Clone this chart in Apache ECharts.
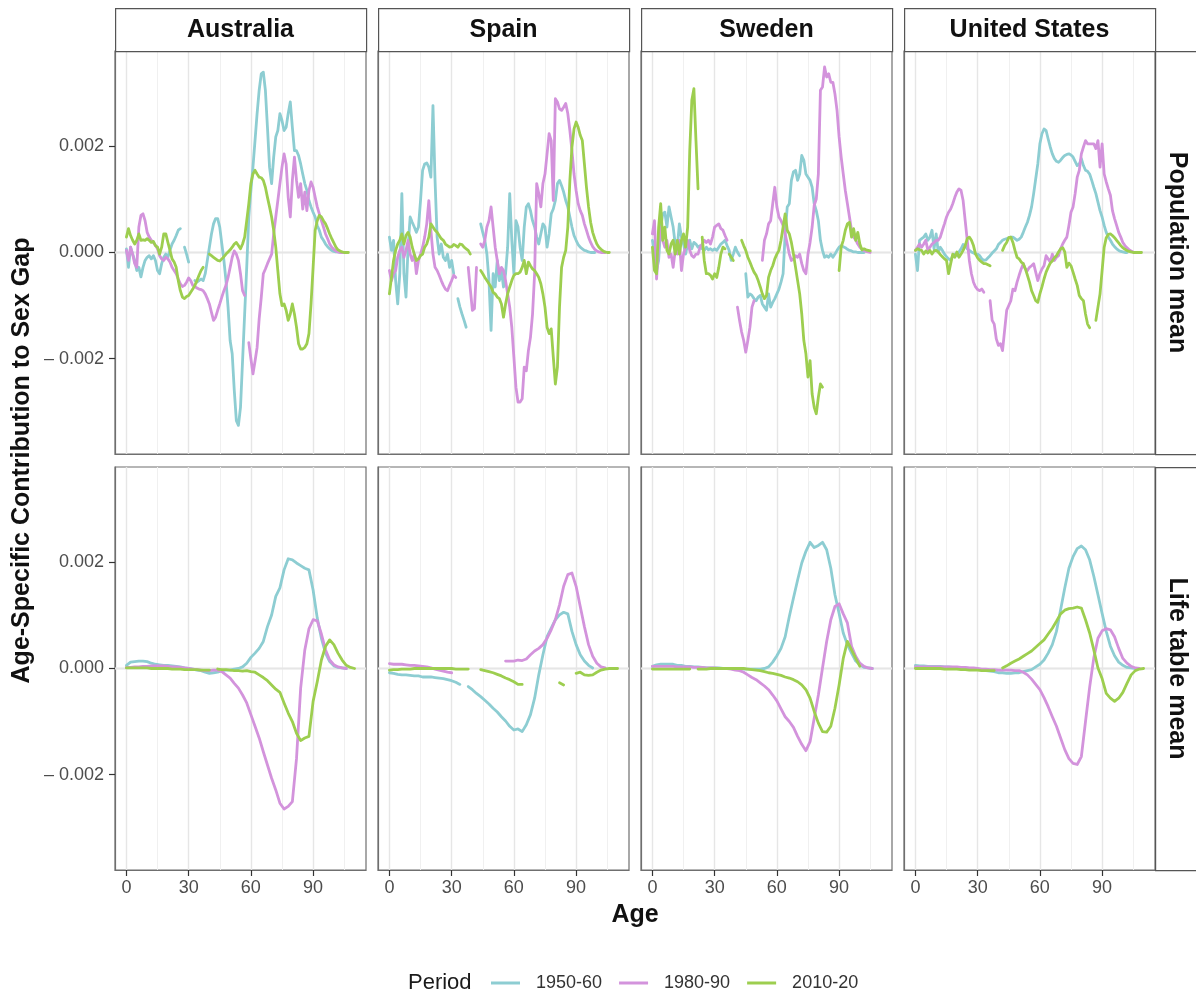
<!DOCTYPE html>
<html>
<head>
<meta charset="utf-8">
<title>Age-Specific Contribution to Sex Gap</title>
<script src="https://cdn.jsdelivr.net/npm/echarts@6/dist/echarts.min.js"></script>
<style>
  html, body { margin: 0; padding: 0; background: #ffffff; }
  #chart { width: 1196px; height: 996px; }
</style>
</head>
<body>
<div id="chart"></div>
<script>
// ---------------------------------------------------------------------------
// Facet labels, periods and axis ticks
// ---------------------------------------------------------------------------
const countries = ['Australia', 'Spain', 'Sweden', 'United States'];
const measures = ['Population mean', 'Life table mean'];
const periods = ['1950-60', '1980-90', '2010-20'];
const periodColors = ['#8dcdd2', '#d393dc', '#9dce4f'];
const ageTicks = [0, 30, 60, 90];
const ageMinorGrid = [15, 45, 75, 105];
const gapTicks = [-0.002, 0, 0.002];
const gapMinorGrid = [-0.003, -0.001, 0.001, 0.003];

// All contributions below are stored in units of 0.0001 (null = no estimate).
const VALUE_UNIT = 1e-4;

// Population mean: one value per single year of age, starting at age 0.
const POP_AGE_STEP = 1;

const ausPop1950 = [0.7,-2.8,1.0,-0.3,-1.5,-3.4,-2.8,-4.6,-2.8,-1.5,
  -0.9,-0.6,-1.2,-0.6,-1.5,-3.4,-4.0,-2.1,-0.9,-0.3,
  -0.9,0.4,1.6,2.3,3.2,4.2,4.5,null,1.0,-0.3,
  -1.8,null,null,-5.3,-5.6,-5.3,-5.0,-5.3,-4.0,-1.5,
  1.0,3.5,5.4,6.4,6.4,4.8,1.6,-1.5,-5.3,-10.3,
  -16.6,-19.1,-26.0,-31.7,-32.6,-29.2,-20.4,-11.6,-2.8,6.7,
  11.7,16.1,21.1,26.2,30.6,33.7,34.0,30.6,23.6,16.1,
  13.0,18.0,21.8,23.0,26.2,24.9,23.0,23.6,26.2,28.4,
  23.6,19.2,19.2,18.3,16.7,14.8,13.0,11.7,9.8,8.6,
  7.6,6.7,5.1,4.2,2.9,2.3,1.6,1.1,0.7,0.4,
  0.2,0.1,0.1,0];
const ausPop1980 = [0.4,-1.5,1.0,-0.3,-2.1,-2.8,4.8,7.0,7.3,6.0,
  3.8,2.9,2.3,1.9,1.3,0.7,-0.6,-1.2,-1.5,-0.9,
  -1.2,-1.8,-2.8,-3.4,-4.0,-5.0,-5.9,-6.4,-6.2,-5.6,
  -4.8,-5.3,-6.2,-6.4,-6.7,-6.9,-7.0,-7.2,-7.8,-8.7,
  -9.7,-11.3,-12.8,-12.2,-10.9,-9.7,-8.4,-7.2,-6.2,-4.7,
  -2.8,-0.9,0.3,-0.3,-1.5,-4.0,-7.2,-8.1,null,-17.0,
  -20.0,-22.9,-20.5,-17.9,-12.5,-8.5,-4.0,-3.1,-2.1,-1.2,
  -0.3,3.5,6.7,9.8,13.0,16.1,18.6,16.7,10.4,6.7,
  13.6,18.0,13.6,10.4,13.0,8.2,11.4,7.9,11.7,13.3,
  12.3,10.4,8.6,7.3,6.0,4.8,3.5,2.6,1.6,1.0,
  0.6,0.3,0.1,0,0,0];
const ausPop2010 = [2.9,4.5,3.2,2.3,1.6,2.3,3.5,2.3,2.4,2.3,
  2.6,2.3,1.9,2.1,1.3,1.0,-0.3,1.0,3.5,3.5,
  1.9,0.4,-1.2,-1.8,-2.8,-5.3,-7.2,-8.4,-8.7,-8.3,
  -8.1,-7.5,-6.9,-6.2,-5.3,-4.3,-3.4,-2.8,null,null,
  -0.3,-0.6,-0.9,-1.2,-1.5,-1.6,-1.2,-0.8,-0.3,0.1,
  0.5,1.0,1.6,1.9,1.3,0.7,1.6,2.9,6.0,9.2,
  13.0,14.8,15.5,14.8,14.2,14.1,13.6,12.3,10.4,8.6,
  6.7,4.2,1.0,-3.4,-7.8,-10.0,-9.7,-10.9,-12.8,-11.6,
  -9.7,-11.6,-14.1,-17.2,-18.2,-18.2,-17.9,-17.2,-15.3,-9.7,
  -2.8,4.2,6.0,7.0,6.7,6.0,5.4,4.5,3.5,2.6,
  1.8,1.0,0.5,0.3,0.1,0,0,0];

const espPop1950 = [2.9,0.4,2.3,-5.3,-9.7,-4.0,11.1,-4.0,-8.4,1.0,
  6.7,5.7,4.8,3.8,4.8,9.8,15.5,16.7,16.9,16.1,
  14.2,27.7,13.6,2.9,-0.3,1.6,-0.9,-1.5,-0.3,-2.8,
  -1.5,-4.0,null,-8.7,-10.3,-11.6,-12.8,-14.1,null,null,
  null,null,null,null,5.4,3.8,2.3,-0.3,-5.3,-14.7,
  -4.0,-6.5,-1.5,-5.3,-3.4,-6.5,-4.0,1.0,11.1,2.3,
  -4.0,6.0,4.8,1.0,-1.5,4.8,8.6,9.2,7.9,6.0,
  4.8,2.9,1.6,3.5,5.4,4.8,1.0,3.5,7.3,8.2,
  9.8,13.0,13.6,12.6,11.4,9.8,8.6,6.7,4.8,3.2,
  2.3,1.5,1.0,0.7,0.4,0.3,0.1,0,0,0];
const espPop1980 = [-3.4,-5.3,-4.0,-3.4,-0.9,0.4,1.0,-0.9,0.4,2.3,
  -0.3,-1.5,-0.3,-4.0,-1.5,-0.3,1.0,2.9,5.4,9.8,
  4.2,-0.3,-2.8,-3.4,-4.3,-5.3,-6.2,-6.9,-7.2,-6.2,
  -5.3,-4.3,-4.7,null,null,null,null,null,-2.8,-6.9,
  -10.9,-10.6,-2.8,null,1.6,1.0,2.3,4.8,6.0,8.6,
  4.8,1.0,-1.5,-4.0,-2.8,-3.4,-5.3,-7.8,-10.3,-14.1,
  -19.7,-25.4,-28.2,-28.2,-27.6,-21.6,-22.3,-18.5,-16.0,-11.6,
  -4.0,13.0,11.1,8.6,13.0,14.8,18.6,22.4,21.1,9.8,
  29.0,28.4,27.1,26.8,27.4,28.1,26.2,23.0,19.2,14.8,
  11.7,9.2,7.9,7.0,5.4,4.2,2.9,1.9,1.1,0.6,
  0.3,0.1,0,0,0];
const espPop2010 = [-7.8,-4.7,-1.5,0.4,1.6,2.3,3.5,1.6,3.2,3.8,
  2.9,1.0,-0.3,-1.5,-1.2,-0.6,-0.3,1.0,1.6,2.9,
  5.4,4.8,4.2,3.8,3.2,2.6,2.3,1.6,1.3,1.0,
  1.1,1.5,1.3,1.0,1.6,1.5,1.0,0.7,0.4,-0.3,
  null,null,null,null,-3.4,-4.0,-4.7,-5.3,-5.9,-6.5,
  -7.5,-7.8,-8.4,-8.7,-9.7,-12.2,-9.7,-7.8,-6.5,-5.3,
  -4.3,-4.0,-4.0,-3.7,-2.8,-1.5,-4.0,-1.8,-2.5,-3.1,
  -3.4,-4.0,-4.7,-5.9,-7.8,-10.3,-14.1,-15.3,-14.4,-19.7,
  -24.8,-21.6,-10.3,-2.8,-0.9,0.4,4.8,13.6,19.9,23.3,
  24.6,23.6,22.1,21.1,16.7,12.3,8.6,5.7,3.8,2.6,
  1.6,1.0,0.6,0.3,0.1,0,0];

const swePop1950 = [2.3,-0.3,-3.4,-1.5,4.8,7.3,7.6,4.8,8.6,6.7,
  4.8,1.6,1.0,5.4,2.9,1.6,-0.3,1.6,2.3,0.7,
  1.9,1.6,1.0,1.3,0.7,0.4,1.0,0.5,0.7,0.4,
  0.7,0.4,1.0,1.6,1.9,2.3,1.3,0.4,-1.5,-0.3,
  1.0,0.1,-0.6,null,null,-4.0,-8.4,-7.8,-8.1,-8.7,
  -9.1,-8.4,-8.1,-9.7,-10.3,-10.9,-7.8,-10.3,-9.4,-8.7,
  -7.8,-6.9,-5.6,-4.0,3.5,8.6,9.2,13.6,15.2,15.5,
  13.6,14.8,18.3,17.4,14.8,14.2,13.6,12.3,9.2,7.9,
  6.0,2.3,0.4,-0.9,-0.6,-0.9,-0.3,-0.9,-0.3,0.4,
  1.0,1.3,1.1,0.9,0.6,0.4,0.3,0.1,0.1,0,
  0,0,0];
const swePop1980 = [3.5,6.0,-5.0,1.0,4.8,2.3,1.0,2.3,-0.9,-0.3,
  -2.8,0.4,-0.3,2.3,-3.4,-0.3,1.0,2.3,0.4,-0.6,
  -0.9,-0.3,-0.3,1.0,1.6,2.3,1.9,2.3,1.6,2.9,
  4.8,5.1,5.4,4.5,4.2,3.2,2.3,null,null,null,
  null,-10.3,-12.8,-15.0,-16.6,-18.8,-16.6,-14.1,-10.3,-9.1,
  null,null,null,-1.5,2.3,3.5,5.4,6.0,9.2,12.3,
  8.6,6.7,6.0,5.1,3.5,1.6,-0.3,-1.5,-1.2,-0.6,
  -0.9,-0.3,-2.1,-3.4,-4.0,-0.3,1.9,4.8,8.9,10.1,
  14.8,30.6,31.2,35.0,33.1,33.7,32.1,32.1,29.9,26.8,
  21.8,18.0,14.8,11.7,9.2,6.7,4.2,2.9,2.4,1.6,
  1.0,0.6,0.4,0.2,0.1,0];
const swePop2010 = [1.0,-3.4,-4.0,4.8,9.2,2.3,4.8,0.4,-0.3,1.6,
  2.3,-0.3,2.3,-0.3,2.3,3.5,1.0,4.8,19.2,28.7,
  30.9,21.1,12.0,null,2.9,-1.5,-4.0,-4.0,-4.3,-5.0,
  -4.0,-4.7,-2.8,-0.3,1.0,0.7,null,-0.3,-0.9,-1.5,
  null,null,null,2.3,1.3,0.4,-0.9,-1.8,-2.8,-3.7,
  -4.3,-5.3,-6.5,-7.8,-8.7,-8.1,-4.7,-3.4,-2.5,-1.2,
  -0.3,0.4,2.3,4.8,7.3,4.2,3.5,1.9,-0.3,-2.8,
  -5.3,-7.8,-11.6,-16.6,-19.1,-23.5,-20.4,-26.7,-29.2,-30.4,
  -27.3,-24.8,-25.4,null,null,null,null,null,null,null,
  -3.4,1.0,2.3,4.2,5.4,5.7,2.9,4.5,2.3,3.8,
  1.6,0.5,0.7,0.5,0.4,0.3];

const usaPop1950 = [-0.3,-3.4,2.3,2.6,2.9,3.5,2.3,2.9,4.2,0.7,
  3.5,0.1,1.0,0.4,-0.3,-0.8,-1.2,-1.5,-0.6,-0.3,
  -0.6,0.1,0.7,1.5,1.3,0.7,0.4,0.1,-0.1,-0.3,
  -0.3,-0.6,-1.2,-1.5,-1.4,-1.0,-0.6,-0.1,0.3,0.7,
  1.5,1.9,2.3,2.5,2.6,2.8,2.9,2.9,2.6,2.3,
  2.5,2.9,3.8,4.8,5.7,7.0,8.6,11.1,13.9,16.7,
  20.5,22.4,23.3,23.0,21.4,19.9,18.6,17.7,17.2,17.0,
  17.4,17.9,18.3,18.5,18.6,18.4,18.0,17.2,16.4,16.7,
  17.7,16.4,15.5,15.3,14.8,13.6,12.3,11.1,9.5,7.9,
  6.7,5.1,3.8,2.9,2.3,1.6,1.1,0.7,0.4,0.2,
  0.1,0,0];
const usaPop1980 = [0.4,1.0,1.6,1.0,1.6,2.3,0.4,1.0,1.6,1.9,
  2.3,2.3,2.9,4.2,5.4,6.7,7.6,8.2,9.2,10.4,
  11.4,12.0,11.7,9.8,6.0,2.3,-1.5,-4.0,-5.6,-6.5,
  -7.0,-7.2,-6.9,-7.5,null,null,-9.1,-12.8,-13.5,-16.3,
  -17.5,-17.2,-18.5,-14.7,-10.9,-10.0,-9.1,-6.9,-7.2,-5.6,
  -4.3,-3.1,-2.1,-3.1,-3.4,-2.8,-2.5,-2.1,-3.7,-5.3,
  -4.0,-3.1,-2.5,-0.6,-1.2,-1.8,-0.3,-1.5,-0.9,-0.6,
  0.7,1.6,2.3,2.9,5.1,7.6,8.6,11.1,14.2,15.5,
  18.6,19.9,21.1,20.5,20.5,20.5,20.5,19.6,21.1,16.1,
  20.5,14.8,13.3,12.0,10.8,7.9,6.4,5.1,3.8,2.9,
  1.9,1.3,0.9,0.5,0.3,0.1];
const usaPop2010 = [0.4,0.7,0.5,0.4,-0.3,0.3,-0.1,0.4,-0.3,0.3,
  0.4,0.1,-0.4,-0.8,-1.2,-1.5,-4.0,-2.1,-0.3,-0.9,
  0.1,-0.9,-0.3,0.4,1.3,2.6,2.9,2.3,1.3,-0.3,
  -1.0,-1.5,-1.8,-2.1,-2.1,-2.3,-2.5,null,null,null,
  null,null,0.4,1.3,1.9,2.8,2.9,1.9,0.4,-0.9,
  -1.2,-1.8,-2.1,-3.1,-4.3,-5.6,-7.2,-8.1,-9.1,-9.4,
  -7.8,-6.5,-5.0,-3.7,-2.8,-2.0,-1.6,-1.0,-0.6,0.1,
  0.7,0.9,0.1,-2.8,-2.0,-2.5,-3.7,-5.0,-6.2,-8.1,
  -8.7,-9.1,-11.6,-13.5,-14.2,null,null,-12.8,-10.3,-7.8,
  -3.4,1.0,2.8,3.4,3.5,3.2,2.8,2.3,1.8,1.3,
  0.9,0.6,0.4,0.2,0.1,0,0,0,0,0];

// Life table mean: one value every second year of age, starting at age 0.
const LT_AGE_STEP = 2;

const ausLt1950 = [0.6,1.2,1.3,1.4,1.4,1.3,1.0,0.8,0.7,0.6,
  0.6,0.5,0.4,0.3,0.1,0,-0.1,-0.3,-0.4,-0.7,
  -0.9,-0.8,-0.7,-0.4,-0.3,-0.3,-0.1,0,0.3,1.0,
  2.1,2.9,3.8,5.1,7.9,10.1,13.6,15.2,18.6,20.7,
  20.5,19.9,19.4,18.9,18.6,14.8,9.5,5.7,2.9,1.3,
  0.5,0.2,0.1,0];
const ausLt1980 = [0.2,0.2,0.3,0.3,0.4,0.4,0.5,0.5,0.5,0.5,
  0.4,0.3,0.3,0.2,0.1,0,-0.1,-0.2,-0.3,-0.4,
  -0.4,-0.3,-0.3,-0.6,-1.2,-1.8,-2.8,-3.7,-5.0,-6.5,
  -8.7,-10.9,-13.1,-15.7,-18.2,-20.7,-22.9,-25.4,-26.5,-26.0,
  -25.1,-17.0,-3.7,3.5,7.5,9.2,9.0,6.5,3.5,1.6,
  0.7,0.3,0.1,0];
const ausLt2010 = [0.1,0.1,0.1,0.1,0.1,0.1,0,0,0,0,
  0,-0.1,-0.1,-0.1,-0.2,-0.2,-0.2,-0.2,-0.3,-0.3,
  -0.3,null,-0.1,-0.2,-0.2,-0.3,-0.4,-0.4,-0.5,-0.4,
  -0.6,-0.7,-1.2,-1.7,-2.3,-3.1,-3.9,-4.5,-6.5,-8.4,
  -10.0,-12.2,-13.6,-13.1,-12.8,-6.2,-2.5,1.6,4.2,5.4,
  4.5,2.9,1.6,0.6,0.2,0];

const espLt1950 = [-0.8,-0.9,-1.1,-1.2,-1.2,-1.3,-1.4,-1.4,-1.6,-1.6,
  -1.6,-1.7,-1.8,-1.9,-2.1,-2.3,-2.6,-3.0,null,-3.4,
  -4.0,-4.7,-5.3,-6.0,-6.7,-7.5,-8.2,-9.1,-9.9,-10.9,
  -11.6,-11.4,-11.9,-10.6,-8.7,-5.6,-1.2,2.6,6.0,7.6,
  9.2,10.1,10.6,10.3,7.0,4.5,2.6,1.4,0.6,0.1];
const espLt1980 = [0.9,0.8,0.8,0.8,0.7,0.6,0.6,0.5,0.4,0.3,
  0.1,-0.1,-0.3,-0.5,-0.7,-0.8,null,null,null,null,
  null,null,null,null,null,null,null,null,1.4,1.4,
  1.4,1.6,1.5,1.8,2.6,3.3,3.8,4.5,5.7,7.3,
  9.2,12.0,15.5,17.7,18.0,15.5,11.7,7.9,4.5,2.3,
  1.0,0.3,0.1];
const espLt2010 = [-0.3,-0.2,-0.2,-0.1,-0.1,-0.1,0,0,0,0,
  0,0,0,0,0,0,-0.1,-0.1,-0.1,-0.1,
  null,null,-0.2,-0.4,-0.6,-0.8,-1.1,-1.4,-1.8,-2.1,
  -2.5,-3.0,-3.0,null,null,null,null,null,null,null,
  null,-2.7,-3.1,null,null,-0.9,-0.7,-1.2,-1.3,-1.2,
  -0.7,-0.3,-0.1,0,0,0];

const sweLt1950 = [0.4,0.7,0.8,0.8,0.8,0.8,0.6,0.6,0.4,0.4,
  0.3,0.3,0.2,0.1,0.1,0.1,0.1,0,0,0,
  -0.1,-0.1,-0.1,-0.1,-0.1,-0.1,-0.1,0,0.3,1.2,
  2.4,3.8,6.0,9.8,13.3,16.7,19.9,22.1,23.8,22.8,
  23.2,23.8,22.4,18.9,13.9,10.4,6.7,4.5,2.9,1.4,
  0.7,0.2,0.1,0];
const sweLt1980 = [0.4,0.4,0.4,0.4,0.4,0.4,0.3,0.3,0.3,0.3,
  0.2,0.2,0.2,0.1,0.1,0.1,0,0,0,-0.1,
  -0.3,-0.4,-0.7,-1.2,-1.7,-2.1,-2.7,-3.3,-4.0,-5.0,
  -6.1,-7.6,-9.1,-10.0,-11.1,-12.8,-14.3,-15.5,-13.8,-9.4,
  -5.0,0.1,5.1,9.2,11.7,12.2,10.3,8.6,4.2,2.3,
  1.0,0.4,0.1,0];
const sweLt2010 = [-0.1,-0.1,-0.1,-0.1,-0.1,-0.1,-0.1,-0.1,-0.1,-0.1,
  null,-0.1,-0.1,-0.1,0,0,0,0,0,0,
  0,0,0,-0.1,-0.2,-0.3,-0.4,-0.6,-0.8,-0.9,
  -1.1,-1.3,-1.6,-1.8,-2.1,-2.5,-3.1,-4.0,-5.6,-8.1,
  -10.3,-11.9,-12.0,-10.9,-7.5,-3.1,1.9,5.1,3.5,1.9,
  0.4];

const usaLt1950 = [0.6,0.5,0.5,0.4,0.4,0.4,0.4,0.3,0.3,0.2,
  0.2,0.1,0.1,0,-0.1,-0.1,-0.3,-0.4,-0.5,-0.6,
  -0.8,-0.8,-0.9,-0.9,-0.8,-0.8,-0.6,-0.4,-0.2,0.3,
  0.8,1.6,2.9,4.5,7.0,11.1,15.2,18.9,21.1,22.6,
  23.1,22.4,20.5,17.4,13.9,10.4,7.0,4.2,2.4,1.2,
  0.6,0.2,0.1,0];
const usaLt1980 = [0.3,0.3,0.3,0.3,0.3,0.3,0.3,0.3,0.3,0.3,
  0.3,0.2,0.2,0.1,0.1,0,-0.1,-0.1,-0.2,-0.2,
  -0.3,-0.3,-0.3,-0.3,-0.4,-0.4,-0.7,-1.2,-2.0,-3.0,
  -4.0,-5.5,-7.2,-9.1,-10.9,-13.1,-15.3,-17.0,-17.9,-18.1,
  -16.6,-10.0,-3.5,2.0,5.7,7.1,7.5,7.3,6.0,3.8,
  1.9,1.0,0.4,0.1,0];
const usaLt2010 = [0,0,0,0,0,0,0,-0.1,-0.1,-0.1,
  -0.1,-0.2,-0.2,-0.3,-0.3,-0.3,-0.4,-0.4,-0.4,-0.4,
  null,0.1,0.5,1.0,1.4,1.8,2.3,2.8,3.3,4.0,
  4.7,5.4,6.5,7.6,8.9,10.3,11.0,11.3,11.4,11.6,
  11.4,9.2,6.7,3.5,0.1,-1.9,-4.7,-5.6,-6.2,-5.6,
  -4.5,-2.8,-1.2,-0.4,-0.1,0];

// One entry per facet: [row, column, age step, series values by period]
const facets = [
  [0, 0, POP_AGE_STEP, [ausPop1950, ausPop1980, ausPop2010]],
  [0, 1, POP_AGE_STEP, [espPop1950, espPop1980, espPop2010]],
  [0, 2, POP_AGE_STEP, [swePop1950, swePop1980, swePop2010]],
  [0, 3, POP_AGE_STEP, [usaPop1950, usaPop1980, usaPop2010]],
  [1, 0, LT_AGE_STEP, [ausLt1950, ausLt1980, ausLt2010]],
  [1, 1, LT_AGE_STEP, [espLt1950, espLt1980, espLt2010]],
  [1, 2, LT_AGE_STEP, [sweLt1950, sweLt1980, sweLt2010]],
  [1, 3, LT_AGE_STEP, [usaLt1950, usaLt1980, usaLt2010]]
];

// ---------------------------------------------------------------------------
// Layout
// ---------------------------------------------------------------------------
const FONT = '"Liberation Sans", Arial, Helvetica, sans-serif';
const PANEL_LEFT = 115, PANEL_W = 251, PANEL_STEP = 263;
const ROW_TOP = [51, 467], PANEL_H = 403;
const STRIP_H = 43;
const AGE_MIN = -5.5, AGE_MAX = 115.5;
const GAP_MIN = -0.0038, GAP_MAX = 0.0038;
const BORDER = '#6f6f6f';

function gapLabel(v) {
  if (Math.abs(v) < 1e-9) return '0.000';
  return v < 0 ? '\u2013 ' + Math.abs(v).toFixed(3) : v.toFixed(3);
}

function toPoints(values, step) {
  return values.map((v, i) => [i * step, v === null ? '-' : v * VALUE_UNIT]);
}

const grid = [], xAxis = [], yAxis = [], series = [];

facets.forEach(([row, col, step, byPeriod], idx) => {
  grid.push({
    left: PANEL_LEFT + col * PANEL_STEP,
    top: ROW_TOP[row],
    width: PANEL_W,
    height: PANEL_H,
    show: true,
    backgroundColor: '#ffffff',
    borderColor: BORDER,
    borderWidth: 1.2,
    containLabel: false
  });
  const bottomRow = row === 1;
  const firstCol = col === 0;
  xAxis.push({
    type: 'value', gridIndex: idx, min: AGE_MIN, max: AGE_MAX,
    position: 'bottom',
    axisLine: { show: true, onZero: false, lineStyle: { color: BORDER, width: 1.2 } },
    splitLine: { show: false },
    axisTick: { show: bottomRow, inside: false, customValues: ageTicks, length: 6,
      lineStyle: { color: '#333333', width: 1.2 } },
    axisLabel: { show: bottomRow, customValues: ageTicks, margin: 9,
      fontFamily: FONT, fontSize: 18, color: '#4d4d4d' }
  });
  yAxis.push({
    type: 'value', gridIndex: idx, min: GAP_MIN, max: GAP_MAX,
    position: 'left',
    axisLine: { show: true, onZero: false, lineStyle: { color: BORDER, width: 1.2 } },
    splitLine: { show: false },
    axisTick: { show: firstCol, inside: false, customValues: gapTicks, length: 6,
      lineStyle: { color: '#333333', width: 1.2 } },
    axisLabel: { show: firstCol, customValues: gapTicks, margin: 11,
      fontFamily: FONT, fontSize: 18, color: '#4d4d4d', formatter: gapLabel }
  });

  // panel grid lines
  const minorStyle = { color: '#f0f0f0', width: 1, type: 'solid' };
  const majorStyle = { color: '#e6e6e6', width: 1.4, type: 'solid' };
  series.push({
    type: 'line', xAxisIndex: idx, yAxisIndex: idx, data: [],
    silent: true, z: 1,
    markLine: {
      silent: true, z: 1, animation: false,
      symbol: ['none', 'none'],
      label: { show: false },
      emphasis: { disabled: true },
      data: [].concat(
        ageMinorGrid.map(v => ({ xAxis: v, lineStyle: minorStyle })),
        gapMinorGrid.map(v => ({ yAxis: v, lineStyle: minorStyle })),
        ageTicks.map(v => ({ xAxis: v, lineStyle: majorStyle })),
        gapTicks.map(v => ({ yAxis: v, lineStyle: majorStyle }))
      )
    }
  });

  byPeriod.forEach((values, p) => {
    series.push({
      name: periods[p],
      type: 'line',
      xAxisIndex: idx, yAxisIndex: idx,
      data: toPoints(values, step),
      showSymbol: false, symbol: 'none',
      connectNulls: false,
      z: 3,
      lineStyle: { color: periodColors[p], width: 2.8, cap: 'round', join: 'round' },
      itemStyle: { color: periodColors[p] },
      emphasis: { disabled: true }
    });
  });
});

// ---------------------------------------------------------------------------
// Facet strips and titles
// ---------------------------------------------------------------------------
const TITLE_FONT = 'bold 25px ' + FONT;
const graphic = [];
countries.forEach((name, c) => {
  const x = PANEL_LEFT + c * PANEL_STEP;
  graphic.push({
    type: 'rect', left: x, top: ROW_TOP[0] - STRIP_H, z: 10,
    shape: { width: PANEL_W, height: STRIP_H },
    style: { fill: '#ffffff', stroke: '#555555', lineWidth: 1.2 }
  });
  graphic.push({
    type: 'text', z: 11,
    x: x + PANEL_W / 2, y: ROW_TOP[0] - STRIP_H / 2 + 1,
    style: { text: name, font: TITLE_FONT, fill: '#111111',
      align: 'center', verticalAlign: 'middle' }
  });
});
const stripX = PANEL_LEFT + 3 * PANEL_STEP + PANEL_W;
measures.forEach((name, r) => {
  graphic.push({
    type: 'rect', left: stripX, top: ROW_TOP[r], z: 10,
    shape: { width: STRIP_H, height: PANEL_H },
    style: { fill: '#ffffff', stroke: '#555555', lineWidth: 1.2 }
  });
  graphic.push({
    type: 'text', z: 11,
    x: stripX + STRIP_H / 2, y: ROW_TOP[r] + PANEL_H / 2,
    rotation: -Math.PI / 2,
    style: { text: name, font: TITLE_FONT, fill: '#111111',
      align: 'center', verticalAlign: 'middle' }
  });
});
graphic.push({
  type: 'text', z: 11, x: 22, y: (ROW_TOP[0] + ROW_TOP[1] + PANEL_H) / 2,
  rotation: Math.PI / 2,
  style: { text: 'Age-Specific Contribution to Sex Gap', font: TITLE_FONT,
    fill: '#111111', align: 'center', verticalAlign: 'middle' }
});
graphic.push({
  type: 'text', z: 11, x: (PANEL_LEFT + stripX) / 2, y: 915,
  style: { text: 'Age', font: TITLE_FONT, fill: '#111111',
    align: 'center', verticalAlign: 'middle' }
});
graphic.push({
  type: 'text', z: 11, x: 408, y: 983,
  style: { text: 'Period', font: '22px ' + FONT, fill: '#1a1a1a',
    align: 'left', verticalAlign: 'middle' }
});

const chart = echarts.init(document.getElementById('chart'), null, { renderer: 'canvas' });
chart.setOption({
  animation: false,
  backgroundColor: '#ffffff',
  grid, xAxis, yAxis, series, graphic,
  legend: {
    data: periods.map((name, p) => ({ name, icon: 'rect',
      itemStyle: { color: periodColors[p] } })),
    left: 491, top: 974,
    orient: 'horizontal',
    itemWidth: 29, itemHeight: 3, itemGap: 17,
    padding: 0,
    selectedMode: false,
    textStyle: { fontFamily: FONT, fontSize: 18, color: '#333333', padding: [0, 0, 0, 11] }
  }
});
</script>
</body>
</html>
